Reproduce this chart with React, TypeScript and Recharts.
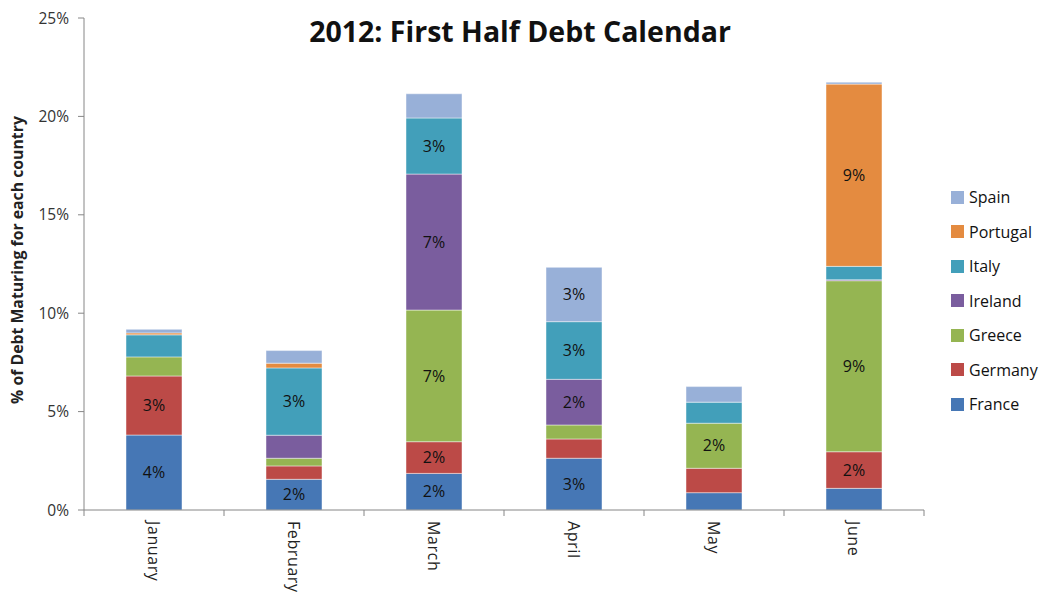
import React from 'react';
import {
  BarChart, Bar, XAxis, YAxis, LabelList,
} from 'recharts';

// ============================================================
// 2012 FIRST HALF DEBT CALENDAR
// Stacked columns, % of debt maturing per country per month.
// ============================================================

const months = ['January', 'February', 'March', 'April', 'May', 'June'];

const france = [3.81, 1.56, 1.86, 2.63, 0.88, 1.1];
const germany = [3.0, 0.68, 1.61, 0.98, 1.24, 1.86];
const greece = [0.97, 0.39, 6.69, 0.71, 2.29, 8.69];
const ireland = [0, 1.17, 6.91, 2.32, 0, 0.05];
const italy = [1.12, 3.42, 2.85, 2.93, 1.07, 0.68];
const portugal = [0.1, 0.24, 0, 0, 0, 9.26];
const spain = [0.18, 0.64, 1.23, 2.76, 0.79, 0.1];

const yTicks = [0, 5, 10, 15, 20, 25];

const series = [
  { key: 'France', values: france, color: '#4677B5' },
  { key: 'Germany', values: germany, color: '#BC4A47' },
  { key: 'Greece', values: greece, color: '#95B552' },
  { key: 'Ireland', values: ireland, color: '#7A5D9E' },
  { key: 'Italy', values: italy, color: '#429FBA' },
  { key: 'Portugal', values: portugal, color: '#E48B40' },
  { key: 'Spain', values: spain, color: '#98B0D8' },
];

const data = months.map((m, i) => {
  const row: Record<string, any> = { month: m };
  series.forEach((s) => { row[s.key] = s.values[i]; });
  return row;
});

const W = 1040;
const H = 592;
const X_AXIS_H = 82;
const margin = { top: 18, right: 116, bottom: 0, left: 0 };
const Y_AXIS_W = 84;
const FONT = '"Open Sans", sans-serif';
const AXIS = '#868686';

const bandWidth = (W - margin.left - margin.right - Y_AXIS_W) / months.length;

function MonthTick({ x, y, payload, index }: any) {
  const left = x - bandWidth / 2;
  const right = x + bandWidth / 2;
  return (
    <g>
      <line x1={left} y1={y} x2={left} y2={y + 6} stroke={AXIS} />
      {index === months.length - 1 && (
        <line x1={right} y1={y} x2={right} y2={y + 6} stroke={AXIS} />
      )}
      <text
        transform={`translate(${x},${y + 11}) rotate(90)`}
        textAnchor="start"
        dominantBaseline="central"
        fontSize={16}
        letterSpacing={0.6}
        fontFamily={FONT}
        fill="#222"
      >
        {payload.value}
      </text>
    </g>
  );
}

function LegendBox() {
  const items = [...series].reverse();
  return (
    <div
      style={{
        position: 'absolute', left: 951, top: 180, fontFamily: FONT, fontSize: 16, color: '#111',
      }}
    >
      {items.map((s) => (
        <div key={s.key} style={{ display: 'flex', alignItems: 'center', height: 34.5 }}>
          <span style={{ width: 13, height: 13, background: s.color, marginRight: 5, display: 'inline-block' }} />
          <span>{s.key}</span>
        </div>
      ))}
    </div>
  );
}

const fmtLabel = (v: any) => (Number(v) >= 1.5 ? `${Math.round(Number(v))}%` : '');

export default function App() {
  return (
    <div style={{ position: 'absolute', left: 0, top: 0, width: W, height: H, background: '#fff' }}>
      <div
        style={{
          position: 'absolute', left: 0, width: W, top: 12, textAlign: 'center',
          fontFamily: FONT, fontWeight: 700, fontSize: 28.5, color: '#111', zIndex: 2,
        }}
      >
        2012: First Half Debt Calendar
      </div>
      <BarChart width={W} height={H} data={data} margin={margin} barSize={56}>
        <XAxis
          dataKey="month"
          height={X_AXIS_H}
          axisLine={{ stroke: AXIS }}
          tickLine={false}
          tickSize={0}
          tickMargin={0}
          interval={0}
          tick={<MonthTick />}
        />
        <YAxis
          width={Y_AXIS_W}
          domain={[0, 25]}
          ticks={yTicks}
          interval={0}
          axisLine={{ stroke: AXIS }}
          tickLine={{ stroke: AXIS }}
          tickSize={6}
          tickMargin={9}
          tickFormatter={(v) => `${v}%`}
          tick={{ fontSize: 15.5, fill: '#333', fontFamily: FONT }}
          label={{
            value: '% of Debt Maturing for each country',
            angle: -90,
            position: 'center',
            dx: -25,
            dy: -4,
            style: { fontSize: 15.8, fontWeight: 700, fill: '#222', fontFamily: FONT },
          }}
        />
        {series.map((s) => (
          <Bar
            key={s.key}
            dataKey={s.key}
            stackId="debt"
            fill={s.color}
            stroke="rgba(255,255,255,0.45)"
            strokeWidth={1}
            isAnimationActive={false}
          >
            <LabelList
              dataKey={s.key}
              position="center"
              formatter={fmtLabel}
              style={{ fontSize: 16, fill: '#111', fontFamily: FONT }}
            />
          </Bar>
        ))}
      </BarChart>
      <LegendBox />
    </div>
  );
}
